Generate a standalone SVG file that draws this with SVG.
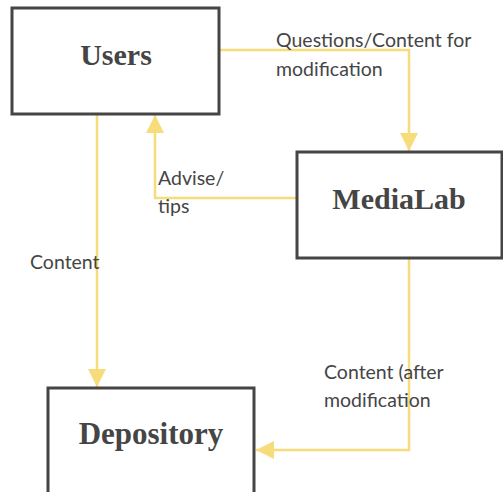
<svg xmlns="http://www.w3.org/2000/svg" width="503" height="492" viewBox="0 0 503 492">
  <defs>
    <style>
      .box { fill: #ffffff; stroke: #454545; stroke-width: 3; }
      .title { font-family: "Liberation Serif", "DejaVu Serif", serif; font-weight: bold; font-size: 30px; fill: #454545; text-anchor: middle; }
      .lbl { font-family: Lato, "Open Sans", sans-serif; font-size: 19.5px; fill: #454545; }
      .wire { fill: none; stroke: #F7DC7C; stroke-width: 2.5; }
    </style>
    <marker id="head" markerUnits="userSpaceOnUse" markerWidth="18" markerHeight="18" viewBox="0 0 16 16" refX="16" refY="8" orient="auto">
      <path d="M0,0 L16,8 L0,16 Z" fill="#F7DC7C"/>
    </marker>
  </defs>
  <rect width="503" height="492" fill="#ffffff"/>

  <g id="connectors">
    <polyline class="wire" points="219,50 409,50 409,151" marker-end="url(#head)"/>
    <polyline class="wire" points="296,198 155,198 155,115" marker-end="url(#head)"/>
    <polyline class="wire" points="97,115 97,387" marker-end="url(#head)"/>
    <polyline class="wire" points="409,259 409,450 256,450" marker-end="url(#head)"/>
  </g>

  <g id="users">
    <rect class="box" x="12" y="8" width="207" height="106"/>
    <text class="title" x="116" y="65">Users</text>
  </g>

  <g id="medialab">
    <rect class="box" x="297" y="152" width="205" height="106"/>
    <text class="title" x="399" y="209">MediaLab</text>
  </g>

  <g id="depository">
    <rect class="box" x="48" y="388" width="206" height="110"/>
    <text class="title" x="151" y="444" style="font-size:31px">Depository</text>
  </g>

  <g id="labels">
    <text class="lbl" x="276" y="47">Questions/Content for</text>
    <text class="lbl" x="276" y="76">modification</text>
    <text class="lbl" x="158" y="185">Advise/</text>
    <text class="lbl" x="158" y="213">tips</text>
    <text class="lbl" x="30" y="269">Content</text>
    <text class="lbl" x="324" y="379">Content (after</text>
    <text class="lbl" x="324" y="407">modification</text>
  </g>
</svg>
